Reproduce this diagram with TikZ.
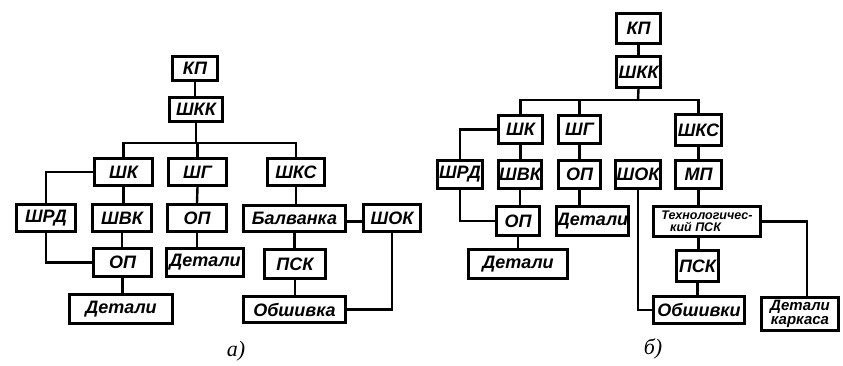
\documentclass[tikz,border=0pt]{standalone}
\usepackage{fontspec}
\setmainfont{Liberation Sans}
\newfontfamily\lblfont{Liberation Serif}
\newcommand\mybox[7][]{\node[box,#1, minimum width={(#5)-(#3)-2.6}, minimum height={(#6)-(#4)-2.6}] (#2) at ({((#3)+(#5))/2},{((#4)+(#6))/2}) {#7};}
\begin{document}
\begin{tikzpicture}[x=1pt,y=-1pt,
  box/.style={draw, line width=2.6pt, inner sep=0pt, align=center,
    font=\bfseries\itshape\fontsize{18}{18}\selectfont},
  small/.style={font=\bfseries\itshape\fontsize{12.5}{12.5}\selectfont},
  mid/.style={font=\bfseries\itshape\fontsize{15}{14.5}\selectfont},
  conn/.style={line width=2.4pt},
  lbl/.style={font=\lblfont\itshape\fontsize{22}{22}\selectfont}]
\fill[white] (0,0) rectangle (843,365);
\useasboundingbox (0,0) rectangle (843,365);
% ---------------- diagram a ----------------
\mybox{aKP}{171}{55}{219}{82}{КП}
\mybox{aSKK}{168}{96}{224}{123}{ШКК}
\mybox{aSK}{93}{157}{154}{187}{ШК}
\mybox{aSG}{167}{157}{228}{187}{ШГ}
\mybox{aSKS}{266}{157}{326}{187}{ШКС}
\mybox{aSRD}{15}{203}{77}{233}{ШРД}
\mybox{aSVK}{91}{203}{153}{233}{ШВК}
\mybox{aOP1}{166}{203}{228}{233}{ОП}
\mybox{aBal}{242}{204}{347}{233}{Балванка}
\mybox{aSOK}{362}{203}{422}{233}{ШОК}
\mybox{aOP2}{92}{247}{153}{278}{ОП}
\mybox{aDet1}{165}{247}{245}{278}{Детали}
\mybox{aPSK}{263}{248}{327}{280}{ПСК}
\mybox{aDet2}{68}{293}{174}{325}{Детали}
\mybox{aObs}{242}{295}{347}{324}{Обшивка}
\coordinate (abar) at (196,143);
\draw[conn] (aKP.south) -- (aKP.south |- aSKK.north);
\draw[conn] (aSKK.south) -- (abar);
\draw[conn] (aSK.north) |- (abar) -| (aSKS.north);
\draw[conn] (aSG.north |- abar) -- (aSG.north);
\draw[conn] (aSK.west) -| (aSRD.north);
\draw[conn] (aSK.south) -- (aSK.south |- aSVK.north);
\draw[conn] (aSVK.south) -- (aSVK.south |- aOP2.north);
\draw[conn] (aSRD.south) |- (aOP2.west);
\draw[conn] (aOP2.south) -- (aOP2.south |- aDet2.north);
\draw[conn] (aSG.south) -- (aOP1.north);
\draw[conn] (aOP1.south) -- (aOP1.south |- aDet1.north);
\draw[conn] (aSKS.south) -- (aSKS.south |- aBal.north);
\draw[conn] ([yshift=-3pt]aBal.east) -- ([yshift=-3pt]aBal.east -| aSOK.west);
\draw[conn] (aBal.south) -- (aBal.south |- aPSK.north);
\draw[conn] (aPSK.south) -- (aPSK.south |- aObs.north);
\draw[conn] (aSOK.south) |- (aObs.east);
\node[lbl] (la) at (236,351) {а)};
% ---------------- diagram b ----------------
\mybox{bKP}{615}{12}{662}{45}{КП}
\mybox{bSKK}{615}{55}{662}{89}{ШКК}
\mybox{bSK}{497}{114}{544}{145}{ШК}
\mybox{bSG}{557}{114}{602}{145}{ШГ}
\mybox{bSKS}{674}{113}{723}{147}{ШКС}
\mybox{bSRD}{436}{159}{484}{190}{ШРД}
\mybox{bSVK}{497}{159}{543}{190}{ШВК}
\mybox{bOP1}{557}{159}{602}{190}{ОП}
\mybox{bSOK}{614}{159}{662}{190}{ШОК}
\mybox{bMP}{674}{159}{723}{190}{МП}
\mybox{bOP2}{495}{205}{541}{237}{ОП}
\mybox{bDet1}{555}{205}{630}{237}{Детали}
\mybox[small,align=left]{bTech}{652}{205}{762}{238}{Технологичес-\\\hspace{0.7em}кий ПСК}
\mybox{bDet2}{467}{248}{569}{280}{Детали}
\mybox{bPSK}{675}{249}{720}{283}{ПСК}
\mybox{bObs}{652}{295}{746}{325}{Обшивки}
\mybox[mid]{bDK}{760}{296}{840}{332}{Детали\\каркаса}
\coordinate (bbar) at (638,100);
\draw[conn] (bKP.south) -- (bSKK.north);
\draw[conn] (bSKK.south) -- (bbar);
\draw[conn] (bSK.north) |- (bbar) -| (bSKS.north);
\draw[conn] (bSG.north |- bbar) -- (bSG.north);
\draw[conn] (bSK.west) -| (bSRD.north);
\draw[conn] (bSK.south) -- (bSK.south |- bSVK.north);
\draw[conn] (bSVK.south) -- (bSVK.south |- bOP2.north);
\draw[conn] (bSRD.south) |- (bOP2.west);
\draw[conn] (bOP2.south) -- (bOP2.south |- bDet2.north);
\draw[conn] (bSG.south) -- (bOP1.north);
\draw[conn] (bOP1.south) -- (bOP1.south |- bDet1.north);
\draw[conn] (bSKS.south) -- (bSKS.south |- bMP.north);
\draw[conn] (bMP.south) -- (bMP.south |- bTech.north);
\draw[conn] (bTech.south -| bMP.south) -- (bMP.south |- bPSK.north);
\draw[conn] (bPSK.south) -- (bPSK.south |- bObs.north);
\draw[conn] (bSOK.south) |- (bObs.west);
\coordinate (bDKin) at (807,296);
\draw[conn] (bTech.east) -| (bDKin);
\node[lbl] (lb) at (653,349) {б)};
\end{tikzpicture}
\end{document}
